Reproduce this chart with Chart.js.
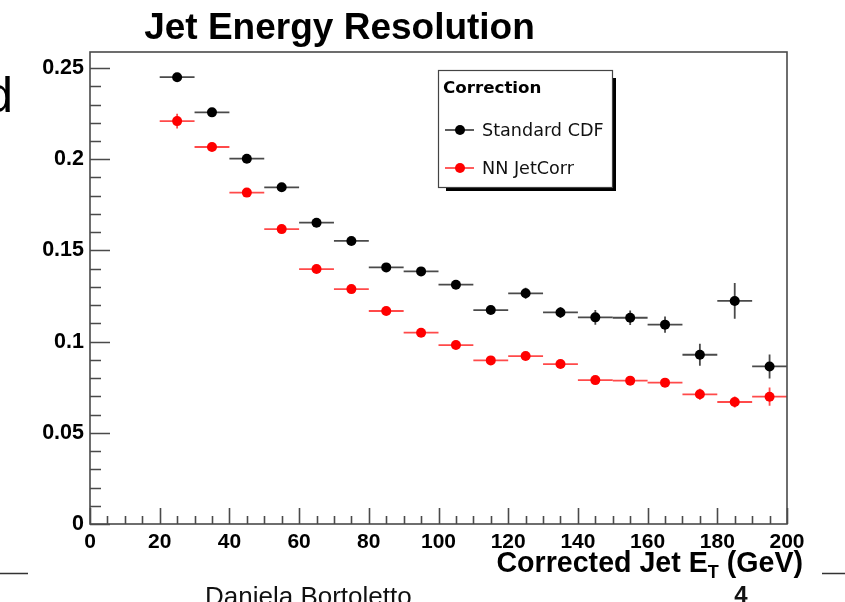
<!DOCTYPE html>
<html>
<head>
<meta charset="utf-8">
<script src="https://cdn.jsdelivr.net/npm/chart.js@4.4.1/dist/chart.umd.min.js"></script>
<style>
  html, body { margin: 0; padding: 0; background: #ffffff; }
  #wrap { width: 845px; height: 602px; position: relative; }
</style>
</head>
<body>
<div id="wrap"><canvas id="c" width="845" height="602"></canvas></div>
<script>
// Bin centres of corrected jet E_T (GeV) and half bin width
const binCenters = [25, 35, 45, 55, 65, 75, 85, 95, 105, 115, 125, 135, 145, 155, 165, 175, 185, 195];
const binHalfWidth = 5;

// Resolution with the standard CDF correction
const stdCdf    = [0.2450, 0.2257, 0.2003, 0.1846, 0.1652, 0.1552, 0.1407, 0.1385, 0.1312, 0.1173,
                   0.1265, 0.1160, 0.1133, 0.1131, 0.1093, 0.0928, 0.1223, 0.0864];
const stdCdfErr = [0.0020, 0.0020, 0.0020, 0.0020, 0.0020, 0.0020, 0.0020, 0.0020, 0.0020, 0.0020,
                   0.0030, 0.0030, 0.0040, 0.0040, 0.0045, 0.0060, 0.0098, 0.0066];

// Resolution with the neural-network jet correction
const nnJetCorr    = [0.2209, 0.2067, 0.1817, 0.1617, 0.1398, 0.1288, 0.1168, 0.1049, 0.0981, 0.0897,
                      0.0921, 0.0877, 0.0789, 0.0786, 0.0775, 0.0711, 0.0669, 0.0698];
const nnJetCorrErr = [0.0041, 0.0020, 0.0020, 0.0020, 0.0020, 0.0020, 0.0020, 0.0020, 0.0020, 0.0020,
                      0.0020, 0.0020, 0.0020, 0.0020, 0.0020, 0.0030, 0.0030, 0.0050];

const seriesNames = ['Standard CDF', 'NN JetCorr'];
const legendTitle = 'Correction';
const chartTitle = 'Jet Energy Resolution';
const xTitleMain = 'Corrected Jet E';
const xTitleSub = 'T';
const xTitleUnit = ' (GeV)';

const xRange = [0, 200];
const yRange = [0, 0.2588];
const xMajorStep = 20, xMinorStep = 5;
const yMajorStep = 0.05, yMinorStep = 0.01;

const BOLD = '"Liberation Sans", Arial, Helvetica, sans-serif';

function toPoints(vals, errs) {
  return binCenters.map((x, i) => ({ x: x, y: vals[i], ex: binHalfWidth, ey: errs[i] }));
}

// Error bars (horizontal bin width + vertical uncertainty)
const errorBars = {
  id: 'errorBars',
  beforeDatasetsDraw(chart) {
    const { ctx, scales: { x, y } } = chart;
    ctx.save();
    chart.data.datasets.forEach(ds => {
      ctx.strokeStyle = ds.barColor;
      ctx.lineWidth = 1.8;
      ds.data.forEach(p => {
        const px = x.getPixelForValue(p.x), py = y.getPixelForValue(p.y);
        ctx.beginPath();
        ctx.moveTo(x.getPixelForValue(p.x - p.ex), py);
        ctx.lineTo(x.getPixelForValue(p.x + p.ex), py);
        ctx.moveTo(px, y.getPixelForValue(p.y - p.ey));
        ctx.lineTo(px, y.getPixelForValue(p.y + p.ey));
        ctx.stroke();
      });
    });
    ctx.restore();
  }
};

// Frame with inward tick marks
const frame = {
  id: 'frame',
  afterDatasetsDraw(chart) {
    const { ctx, chartArea: a, scales: { x, y } } = chart;
    ctx.save();
    ctx.strokeStyle = '#4a4a4a';
    ctx.lineWidth = 1.6;
    ctx.strokeRect(a.left, a.top, a.right - a.left, a.bottom - a.top);
    ctx.beginPath();
    const nY = Math.round((0.25 - yRange[0]) / yMinorStep);
    for (let i = 0; i <= nY; i++) {
      const v = yRange[0] + i * yMinorStep;
      const py = Math.round(y.getPixelForValue(v)) + 0.5;
      const major = i % Math.round(yMajorStep / yMinorStep) === 0;
      ctx.moveTo(a.left, py);
      ctx.lineTo(a.left + (major ? 20 : 11), py);
    }
    const nX = Math.round((xRange[1] - xRange[0]) / xMinorStep);
    for (let i = 0; i <= nX; i++) {
      const v = xRange[0] + i * xMinorStep;
      const px = Math.round(x.getPixelForValue(v)) + 0.5;
      const major = i % Math.round(xMajorStep / xMinorStep) === 0;
      ctx.moveTo(px, a.bottom);
      ctx.lineTo(px, a.bottom - (major ? 16 : 8));
    }
    ctx.stroke();
    ctx.restore();
  }
};

// Titles, legend box and surrounding page text
const annotations = {
  id: 'annotations',
  afterDraw(chart) {
    const { ctx, chartArea: a } = chart;
    ctx.save();
    ctx.fillStyle = '#000';

    // Title
    ctx.font = 'bold 37px ' + BOLD;
    ctx.textAlign = 'center';
    ctx.textBaseline = 'alphabetic';
    ctx.fillText(chartTitle, 339.5, 39);

    // X axis title with subscript, right aligned
    const fMain = 'bold 28.6px ' + BOLD, fSub = 'bold 18px ' + BOLD;
    ctx.textAlign = 'left';
    ctx.font = fMain; const w1 = ctx.measureText(xTitleMain).width; const w3 = ctx.measureText(xTitleUnit).width;
    ctx.font = fSub; const w2 = ctx.measureText(xTitleSub).width;
    let tx = a.right + 16 - (w1 + w2 + w3);
    const base = 572;
    ctx.font = fMain; ctx.fillText(xTitleMain, tx, base); tx += w1;
    ctx.font = fSub; ctx.fillText(xTitleSub, tx, base + 6); tx += w2;
    ctx.font = fMain; ctx.fillText(xTitleUnit, tx, base);

    // Legend with drop shadow
    const lx = 438, ly = 70, lw = 174, lh = 117;
    ctx.fillStyle = '#000';
    ctx.fillRect(lx + lw, ly + 8, 4, lh - 4);
    ctx.fillRect(lx + 8, ly + lh, lw - 4, 4);
    ctx.fillStyle = '#fff';
    ctx.fillRect(lx, ly, lw, lh);
    ctx.strokeStyle = '#444';
    ctx.lineWidth = 1.2;
    ctx.strokeRect(lx + 0.5, ly + 0.5, lw, lh);
    ctx.fillStyle = '#000';
    ctx.textBaseline = 'middle';
    ctx.font = 'bold 16.7px "DejaVu Sans", sans-serif';
    ctx.fillText(legendTitle, lx + 5, ly + 19);
    ctx.font = '17.6px "DejaVu Sans", sans-serif';
    chart.data.datasets.forEach((ds, i) => {
      const ey = ly + 60 + i * 38;
      ctx.strokeStyle = ds.barColor;
      ctx.lineWidth = 1.8;
      ctx.beginPath(); ctx.moveTo(lx + 7, ey); ctx.lineTo(lx + 36, ey); ctx.stroke();
      ctx.fillStyle = ds.backgroundColor;
      ctx.beginPath(); ctx.arc(lx + 22, ey, 5, 0, Math.PI * 2); ctx.fill();
      ctx.fillStyle = '#111';
      ctx.fillText(ds.label, lx + 44, ey + 1);
    });

    // Page remnants around the plot
    ctx.fillStyle = '#000';
    ctx.textBaseline = 'alphabetic';
    ctx.font = '50px ' + BOLD;
    ctx.textAlign = 'right';
    ctx.fillText('d', 13, 112);
    ctx.textAlign = 'left';
    ctx.font = '26px ' + BOLD;
    ctx.fillStyle = '#111';
    ctx.fillText('Daniela Bortoletto', 205, 605);
    ctx.font = 'bold 24px ' + BOLD;
    ctx.textAlign = 'center';
    ctx.fillText('4', 741, 603);
    ctx.strokeStyle = '#333';
    ctx.lineWidth = 1.5;
    ctx.beginPath();
    ctx.moveTo(0, 573.5); ctx.lineTo(28, 573.5);
    ctx.moveTo(822, 573.5); ctx.lineTo(845, 573.5);
    ctx.stroke();
    ctx.restore();
  }
};

new Chart(document.getElementById('c'), {
  type: 'scatter',
  data: {
    datasets: [
      { label: seriesNames[0], data: toPoints(stdCdf, stdCdfErr), backgroundColor: '#000000',
        borderWidth: 0, pointRadius: 5, barColor: '#4a4a4a' },
      { label: seriesNames[1], data: toPoints(nnJetCorr, nnJetCorrErr), backgroundColor: '#ff0000',
        borderWidth: 0, pointRadius: 5, barColor: '#ff4a4a' }
    ]
  },
  options: {
    responsive: false,
    animation: false,
    events: [],
    layout: { padding: { left: 0, right: 58, top: 52, bottom: 0 } },
    plugins: { legend: { display: false }, tooltip: { enabled: false }, title: { display: false } },
    scales: {
      x: {
        type: 'linear', min: xRange[0], max: xRange[1],
        grid: { display: false, drawTicks: false },
        border: { display: false },
        ticks: { stepSize: xMajorStep, includeBounds: false, autoSkip: false, maxRotation: 0,
                 padding: 6, color: '#000', font: { family: BOLD, weight: 'bold', size: 21 } },
        afterFit(s) { s.height = 78; }
      },
      y: {
        type: 'linear', min: yRange[0], max: yRange[1],
        grid: { display: false, drawTicks: false },
        border: { display: false },
        ticks: { stepSize: yMajorStep, includeBounds: false, padding: 6, color: '#000',
                 font: { family: BOLD, weight: 'bold', size: 21.5 },
                 callback: v => String(+v.toFixed(2)) },
        afterFit(s) { s.width = 90; }
      }
    }
  },
  plugins: [errorBars, frame, annotations]
});
</script>
</body>
</html>
